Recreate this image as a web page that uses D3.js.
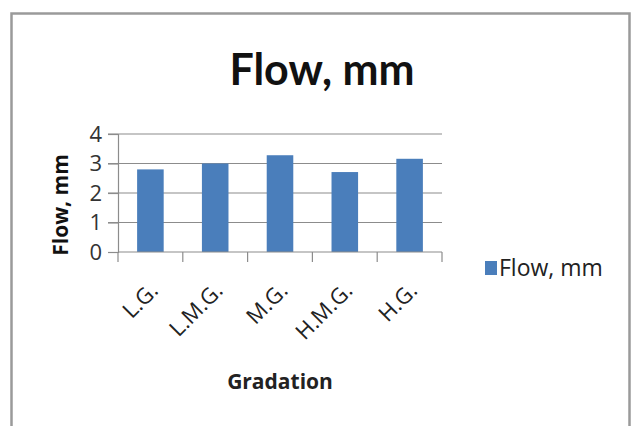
<!DOCTYPE html>
<html>
<head>
<meta charset="utf-8">
<script src="https://cdn.jsdelivr.net/npm/d3@7"></script>
<style>
  html, body { margin: 0; padding: 0; background: #fff; }
  svg { display: block; }
  text { font-family: "Open Sans", "Noto Sans", sans-serif; }
</style>
</head>
<body>
<svg id="chart" width="632" height="426"></svg>
<script>
// Flow (mm) for each aggregate gradation
const categories = ["L.G.", "L.M.G.", "M.G.", "H.M.G.", "H.G."];
const flowValues = [2.8, 3.0, 3.28, 2.71, 3.16];
const yTicks = [0, 1, 2, 3, 4];
const seriesName = "Flow, mm";

const svg = d3.select("#chart");
const plot = { left: 118, right: 442, top: 134, bottom: 252 };

// outer chart frame
svg.append("rect")
  .attr("x", 11.5).attr("y", 13.5)
  .attr("width", 618).attr("height", 440)
  .attr("fill", "#fff")
  .attr("stroke", "#9a9a9a").attr("stroke-width", 2.5);

const x = d3.scaleBand().domain(categories)
  .range([plot.left, plot.right]).paddingInner(0.59).paddingOuter(0.295);
const xOuter = d3.scaleBand().domain(categories).range([plot.left, plot.right]);
const y = d3.scaleLinear().domain([0, 4]).range([plot.bottom, plot.top]);

// horizontal gridlines
svg.append("g").selectAll("line").data(yTicks.filter(t => t > 0)).join("line")
  .attr("x1", plot.left - 10).attr("x2", plot.right)
  .attr("y1", d => y(d)).attr("y2", d => y(d))
  .attr("stroke", "#8c8c8c").attr("stroke-width", 1.2);

// y axis
const yAxis = svg.append("g").attr("transform", `translate(${plot.left},0)`)
  .call(d3.axisLeft(y).tickValues(yTicks).tickFormat(d3.format("d")).tickSize(10).tickPadding(6));
yAxis.select(".domain").attr("stroke", "#8c8c8c").attr("stroke-width", 1.2);
yAxis.selectAll(".tick line").attr("stroke", "#8c8c8c").attr("stroke-width", 1.2);
yAxis.selectAll(".tick text")
  .attr("font-size", 22).attr("fill", "#333")
  .style("font-family", "'Open Sans', sans-serif");

// bars
svg.append("g").selectAll("rect").data(categories).join("rect")
  .attr("x", d => x(d))
  .attr("y", (d, i) => y(flowValues[i]))
  .attr("width", x.bandwidth())
  .attr("height", (d, i) => y(0) - y(flowValues[i]))
  .attr("fill", "#4a7ebb");

// x axis baseline and category ticks
const xAxis = svg.append("g").attr("transform", `translate(0,${plot.bottom})`);
xAxis.append("line").attr("x1", plot.left).attr("x2", plot.right)
  .attr("stroke", "#8c8c8c").attr("stroke-width", 1.2);
const tickXs = categories.map(c => xOuter(c)).concat([plot.right]);
xAxis.selectAll("line.tk").data(tickXs).join("line").attr("class", "tk")
  .attr("x1", d => d).attr("x2", d => d).attr("y1", 0).attr("y2", 10)
  .attr("stroke", "#8c8c8c").attr("stroke-width", 1.2);

// rotated category labels
xAxis.selectAll("text.cat").data(categories).join("text").attr("class", "cat")
  .attr("transform", d => `translate(${xOuter(d) + xOuter.bandwidth() / 2 + 9},${40}) rotate(-45)`)
  .attr("text-anchor", "end")
  .attr("font-size", 22).attr("fill", "#222")
  .text(d => d);

// title
svg.append("text").attr("x", 322).attr("y", 85)
  .attr("text-anchor", "middle").attr("font-size", 43).attr("font-weight", "bold")
  .style("font-family", "Lato, sans-serif")
  .attr("fill", "#111").text("Flow, mm");

// axis titles
svg.append("text")
  .attr("transform", `translate(68,${(plot.top + plot.bottom) / 2 + 12}) rotate(-90)`)
  .attr("text-anchor", "middle").attr("font-size", 21).attr("font-weight", "bold")
  .attr("fill", "#111").text("Flow, mm");
svg.append("text").attr("x", (plot.left + plot.right) / 2).attr("y", 389)
  .attr("text-anchor", "middle").attr("font-size", 21).attr("font-weight", "bold")
  .attr("fill", "#222").text("Gradation");

// legend
const lg = svg.append("g").attr("transform", "translate(485,261)");
lg.append("rect").attr("width", 12).attr("height", 14).attr("fill", "#4a7ebb");
lg.append("text").attr("x", 14).attr("y", 15)
  .attr("font-size", 23).attr("fill", "#222").text(seriesName);
</script>
</body>
</html>
